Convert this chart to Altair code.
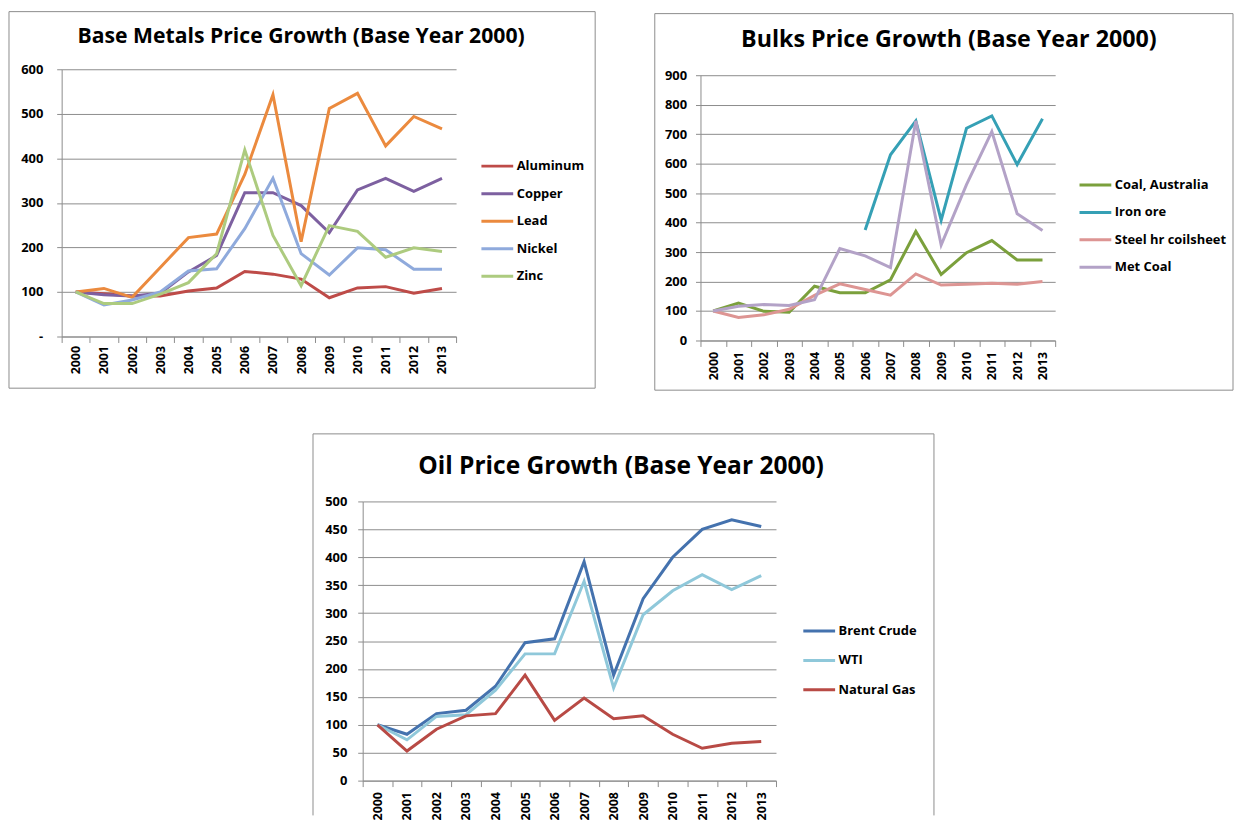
import altair as alt
import pandas as pd

FONT = "Open Sans"
GRID = "#8c8c8c"
FRAME = "#8c8c8c"

years = [str(y) for y in range(2000, 2014)]

# ---- Base metals ----
metals_series = ["Aluminum", "Copper", "Lead", "Nickel", "Zinc"]
aluminum = [100, 96, 91, 91, 102, 109, 146, 140, 129, 87, 109, 112, 97, 108]
copper = [100, 94, 91, 97, 145, 182, 323, 323, 294, 233, 329, 355, 326, 355]
lead = [100, 108, 88, 155, 222, 230, 364, 543, 213, 512, 546, 428, 494, 466]
nickel = [100, 71, 82, 100, 147, 152, 242, 355, 186, 138, 199, 195, 151, 151]
zinc = [100, 74, 74, 95, 121, 186, 419, 227, 114, 249, 236, 178, 199, 191]
metals_colors = ["#BE4B48", "#7D60A0", "#EB8A3E", "#8FAADC", "#ADCB7F"]

# ---- Bulks ----
bulks_series = ["Coal, Australia", "Iron ore", "Steel hr coilsheet", "Met Coal"]
coal = [100, 127, 99, 96, 184, 162, 162, 206, 370, 224, 298, 339, 273, 273]
iron = [None, None, None, None, None, None, 375, 630, 745, 408, 720, 762, 597, 752]
steel = [100, 78, 87, 106, 153, 192, 173, 154, 226, 188, 191, 194, 191, 200]
metcoal = [100, 116, 122, 119, 138, 312, 287, 247, 745, 324, 529, 709, 430, 373]
bulks_colors = ["#7BA03C", "#35A0B5", "#DD9593", "#B3A2C7"]

# ---- Oil ----
oil_series = ["Brent Crude", "WTI", "Natural Gas"]
brent = [100, 83, 120, 126, 169, 247, 254, 392, 189, 326, 400, 450, 467, 455]
wti = [100, 73, 115, 118, 162, 227, 227, 357, 166, 297, 340, 369, 342, 367]
gas = [100, 53, 92, 116, 120, 189, 108, 148, 111, 116, 83, 58, 67, 70]
oil_colors = ["#4472AE", "#8FC8DA", "#B84A45"]


def long_df(series, values):
    rows = []
    for name, vals in zip(series, values):
        for yr, v in zip(years, vals):
            if v is not None:
                rows.append({"Year": yr, "Series": name, "Value": v})
    return pd.DataFrame(rows)


one = pd.DataFrame({"k": [0]})


def panel(df, series, colors, ymax, ystep, zero_dash, width, height, ytop,
          frame, title_text, title_xy, title_size, legend_xy, row_pad,
          x_pad, y_pad, open_bottom=False):
    fx1, fx2, fy1, fy2 = frame
    lines = alt.Chart(df).mark_line(strokeWidth=3).encode(
        x=alt.X("Year:O", bandPosition=0.5,
                scale=alt.Scale(type="band", domain=years, paddingInner=0, paddingOuter=0),
                axis=alt.Axis(title=None, labelAngle=270, tickBand="extent", ticks=True,
                              tickSize=6, tickColor=GRID, domainColor=GRID, grid=False,
                              labelPadding=x_pad, labelFont=FONT, labelFontSize=12.5,
                              labelFontWeight="bold", labelColor="#000")),
        y=alt.Y("Value:Q", scale=alt.Scale(domain=[0, ymax], nice=False, range=[height, ytop]),
                axis=alt.Axis(title=None, values=list(range(0, ymax + 1, ystep)),
                              grid=True, gridColor=GRID, tickColor=GRID, domainColor=GRID,
                              tickSize=5, labelPadding=y_pad, labelFont=FONT,
                              labelFontSize=13, labelFontWeight="bold", labelColor="#000",
                              labelExpr=("datum.value == 0 ? '-' : datum.label") if zero_dash else "datum.label")),
        color=alt.Color("Series:N",
                        scale=alt.Scale(domain=series, range=colors),
                        legend=alt.Legend(title=None, orient="none",
                                          legendX=legend_xy[0], legendY=legend_xy[1],
                                          symbolType="M-2,0H2", symbolSize=256,
                                          symbolStrokeWidth=3, labelOffset=10,
                                          rowPadding=row_pad, padding=0,
                                          labelFont=FONT, labelFontSize=13,
                                          labelFontWeight="bold", labelColor="#000")),
    )
    title = alt.Chart(one).mark_text(text=title_text, font=FONT, fontSize=title_size,
                                     fontWeight="bold", align="center",
                                     baseline="alphabetic", color="#000").encode(
        x=alt.value(title_xy[0]), y=alt.value(title_xy[1]))
    if open_bottom:
        f1 = alt.Chart(one).mark_rule(color=FRAME, strokeWidth=1).encode(
            x=alt.value(fx1), y=alt.value(fy1), y2=alt.value(fy2))
        f2 = alt.Chart(one).mark_rule(color=FRAME, strokeWidth=1).encode(
            x=alt.value(fx2), y=alt.value(fy1), y2=alt.value(fy2))
        f3 = alt.Chart(one).mark_rule(color=FRAME, strokeWidth=1).encode(
            x=alt.value(fx1), x2=alt.value(fx2), y=alt.value(fy1))
        layers = [f1, f2, f3, title, lines]
    else:
        fr = alt.Chart(one).mark_rect(filled=False, stroke=FRAME, strokeWidth=1).encode(
            x=alt.value(fx1), x2=alt.value(fx2), y=alt.value(fy1), y2=alt.value(fy2))
        layers = [fr, title, lines]
    return alt.layer(*layers).properties(width=width, height=height)


c1 = panel(long_df(metals_series, [aluminum, copper, lead, nickel, zinc]),
           metals_series, metals_colors, 600, 100, True, 397, 269, 0,
           (-53, 537, -58, 321), "Base Metals Price Growth (Base Year 2000)",
           (241, -26), 21.3, (429, 88), 10.7, 3, 14)

c2 = panel(long_df(bulks_series, [coal, iron, steel, metcoal]),
           bulks_series, bulks_colors, 900, 100, False, 357, 273, 6,
           (-46, 536, -56, 323), "Bulks Price Growth (Base Year 2000)",
           (250, -22), 23.4, (388, 107), 10.6, 5, 9)

c3 = panel(long_df(oil_series, [brent, wti, gas]),
           oil_series, oil_colors, 500, 50, False, 416, 281, 0,
           (-50, 575, -68, 316), "Oil Price Growth (Base Year 2000)",
           (260, -28), 24.7, (450, 121), 12.5, 5, 11, open_bottom=True)

spacer = alt.Chart(one).mark_rule(opacity=0).encode(
    x=alt.value(0), y=alt.value(0), y2=alt.value(1)).properties(width=1, height=1)

top = alt.hconcat(c1, c2, spacing=58).resolve_scale(x="independent", y="independent", color="independent")
bottom = alt.hconcat(spacer, c3, spacing=251).resolve_scale(x="independent", y="independent", color="independent")
chart = (alt.vconcat(top, bottom, spacing=42)
         .resolve_scale(x="independent", y="independent", color="independent")
         .properties(padding=0, background="white")
         .configure_view(stroke=None))

chart.save("out.html", embed_options={"renderer": "svg", "actions": False})
